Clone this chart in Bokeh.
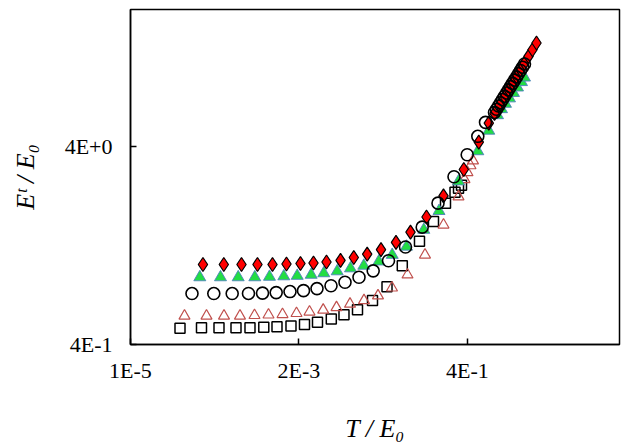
from bokeh.plotting import figure
from bokeh.models import FixedTicker, CustomJSTickFormatter, Range1d
from bokeh.embed import file_html
from bokeh.resources import INLINE

# ---- data ----
T_diamond = [9.77e-5, 1.882e-4, 3.284e-4, 5.43e-4, 8.71e-4, 1.352e-3, 2.099e-3, 3.162e-3,
             4.76e-3, 7.40e-3, 1.123e-2, 1.712e-2, 2.643e-2, 4.236e-2, 6.685e-2, 0.1106,
             0.1888, 0.3575, 0.5728, 0.7848, 0.939, 1.099, 1.286, 1.458, 1.654, 1.876,
             2.128, 2.413, 2.736, 3.103, 3.519]
E_diamond = [1.016, 1.016, 1.016, 1.016, 1.016, 1.022, 1.028, 1.034, 1.046, 1.065, 1.102,
             1.147, 1.208, 1.314, 1.481, 1.766, 2.257, 3.07, 4.225, 5.27, 5.90, 6.50, 7.17,
             7.76, 8.39, 9.07, 9.80, 10.60, 11.46, 12.39, 13.40]

T_green = [8.845e-5, 1.696e-4, 2.960e-4, 4.99e-4, 7.92e-4, 1.243e-3, 1.894e-3, 2.941e-3,
           4.372e-3, 6.664e-3, 1.013e-2, 1.539e-2, 2.467e-2, 3.760e-2, 5.896e-2, 0.1016,
           0.1639, 0.3027, 0.5554, 0.7848, 1.032, 1.170, 1.327, 1.505, 1.707, 1.936,
           2.195, 2.413]
E_green = [0.875, 0.875, 0.875, 0.875, 0.880, 0.885, 0.890, 0.901, 0.917, 0.938, 0.971,
           1.001, 1.052, 1.136, 1.250, 1.521, 1.893, 2.673, 3.798, 4.826, 5.78, 6.20,
           6.60, 7.03, 7.49, 7.98, 8.50, 8.96]

T_circle = [6.92e-5, 1.374e-4, 2.450e-4, 4.09e-4, 6.36e-4, 9.78e-4, 1.510e-3, 2.309e-3,
            3.530e-3, 5.484e-3, 8.518e-3, 1.323e-2, 2.068e-2, 3.346e-2, 5.713e-2, 9.66e-2,
            0.1588, 0.2627, 0.3978, 0.5554, 0.7074, 0.939, 1.000, 1.065, 1.134, 1.208,
            1.286, 1.370, 1.459, 1.553, 1.654, 1.762, 1.876, 1.998, 2.127, 2.265, 2.412]
E_circle = [0.724, 0.724, 0.724, 0.725, 0.728, 0.732, 0.741, 0.749, 0.767, 0.793, 0.826,
            0.875, 0.943, 1.061, 1.246, 1.569, 2.075, 2.822, 3.648, 4.52, 5.32, 5.97,
            6.199, 6.436, 6.683, 6.939, 7.205, 7.481, 7.767, 8.065, 8.374, 8.694, 9.027,
            9.373, 9.732, 10.105, 10.49]

T_tri = [5.465e-5, 1.092e-4, 1.894e-4, 3.131e-4, 4.943e-4, 7.68e-4, 1.193e-3, 1.853e-3,
         2.789e-3, 4.290e-3, 6.519e-3, 9.97e-3, 1.548e-2, 2.405e-2, 3.736e-2, 6.085e-2,
         0.1055, 0.1888, 0.3027, 0.3654, 0.4016, 0.4414, 0.4775]
E_tri = [0.558, 0.558, 0.558, 0.558, 0.562, 0.565, 0.568, 0.575, 0.585, 0.598, 0.616,
         0.641, 0.668, 0.706, 0.774, 0.901, 1.136, 1.611, 2.236, 2.735, 2.965, 3.214, 3.404]

T_square = [4.745e-5, 9.33e-5, 1.618e-4, 2.762e-4, 4.290e-4, 6.62e-4, 1.003e-3, 1.558e-3,
            2.382e-3, 3.586e-3, 5.536e-3, 8.25e-3, 1.262e-2, 2.023e-2, 3.193e-2, 5.164e-2,
            8.87e-2, 0.1378, 0.2010, 0.2711, 0.3027, 0.3325]
E_square = [0.484, 0.486, 0.486, 0.486, 0.486, 0.489, 0.492, 0.496, 0.505, 0.518, 0.538,
            0.565, 0.600, 0.668, 0.784, 1.001, 1.332, 1.677, 2.075, 2.355, 2.466, 2.553]

x_ticks = [1e-5, 2e-3, 4e-1]
y_ticks = [4e-1, 4e0]
x_title = "T / E\u2080"
y_title = "E\u1d57 / E\u2080"

# ---- figure ----
p = figure(width=628, height=445, x_axis_type="log", y_axis_type="log",
           x_range=Range1d(1e-5, 47.9), y_range=Range1d(0.4, 19.8),
           output_backend="svg", toolbar_location=None,
           min_border_left=130, min_border_right=9, min_border_top=9,
           min_border_bottom=97)
p.background_fill_color = "white"
p.border_fill_color = "white"
p.outline_line_color = "black"
p.outline_line_width = 1.5
p.grid.visible = False

fmt = "return tick.toExponential(0).toUpperCase();"
for ax, ticks in ((p.xaxis, x_ticks), (p.yaxis, y_ticks)):
    ax.ticker = FixedTicker(ticks=ticks, minor_ticks=[])
    ax.formatter = CustomJSTickFormatter(code=fmt)
    ax.major_tick_in = 6
    ax.major_tick_out = 0
    ax.minor_tick_line_color = None
    ax.axis_line_color = "black"
    ax.axis_line_width = 1.5
    ax.major_tick_line_color = "black"
    ax.major_tick_line_width = 1.5
    ax.major_label_text_font = "Liberation Serif"
    ax.major_label_text_font_size = "22px"
    ax.major_label_text_color = "black"
    ax.axis_label_text_font = "Liberation Serif"
    ax.axis_label_text_font_style = "italic"
    ax.axis_label_text_font_size = "26px"
    ax.axis_label_text_color = "black"
p.xaxis.major_label_standoff = 13
p.yaxis.major_label_standoff = 18
p.xaxis.axis_label = x_title
p.yaxis.axis_label = y_title
p.xaxis.axis_label_standoff = 28
p.yaxis.axis_label_standoff = 22

# ---- markers ----
p.scatter(T_square, E_square, marker="square", size=10, fill_color=None,
          line_color="black", line_width=1.5)
p.scatter(T_tri, E_tri, marker="triangle", size=11, fill_color=None,
          line_color="#c0504d", line_width=1.2)
p.scatter(T_green, E_green, marker="triangle", size=12, fill_color="#22dd44",
          line_color="#4f81bd", line_width=0.9)
p.scatter(T_diamond, E_diamond, marker="diamond", size=14, fill_color="#ff0000",
          line_color="black", line_width=1.2)
p.scatter(T_circle, E_circle, marker="circle", size=12, fill_color=None,
          line_color="black", line_width=1.6)

open("out.html", "w").write(file_html(p, INLINE))
